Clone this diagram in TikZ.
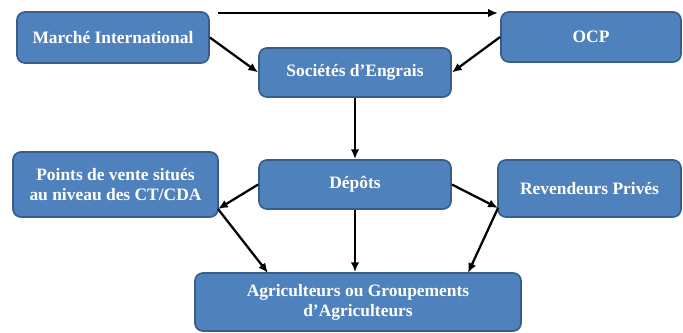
\documentclass[tikz,border=0pt]{standalone}
\usepackage{fontspec}
\setmainfont{Liberation Serif}
\usetikzlibrary{arrows.meta,calc}

\definecolor{boxfill}{RGB}{79,129,189}
\definecolor{boxline}{RGB}{56,93,138}

\tikzset{
  acteur/.style={draw=boxline, fill=boxfill, line width=1.2pt, rounded corners=0.2cm,
    text=white, font=\fontsize{12.4}{14.2}\selectfont\bfseries, align=center, inner sep=0pt},
  flux/.style={line width=1.6pt, -{Latex[length=7pt,width=6pt]}}
}

\begin{document}
\begin{tikzpicture}[x=0.025cm,y=-0.025cm]
\useasboundingbox (0,0) rectangle (683,332);

% les acteurs
\node[acteur, minimum width=4.8cm, minimum height=1.275cm] (mi) at (113,37.5) {Marché International};
\node[acteur, minimum width=4.5cm, minimum height=1.25cm] (ocp) at (591,37) {OCP};
\node[acteur, minimum width=4.8cm, minimum height=1.225cm] (se) at (355,72.5) {Sociétés d’Engrais};
\node[acteur, minimum width=4.8cm, minimum height=1.225cm] (dep) at (355,184.5) {Dépôts};
\node[acteur, minimum width=5.125cm, minimum height=1.625cm] (pv) at (115.5,184.5) {Points de vente situés\\au niveau des CT/CDA};
\node[acteur, minimum width=4.575cm, minimum height=1.425cm] (rp) at (589.5,188.5) {Revendeurs Privés};
\node[acteur, minimum width=8.15cm, minimum height=1.45cm] (ag) at (358,302) {Agriculteurs ou Groupements\\d’Agriculteurs};

% points de jonction
\coordinate (mitop) at (218,13);
\coordinate (ocptop) at (498,13);
\coordinate (pvj) at (218,209);
\coordinate (rpj) at (498,208);
\coordinate (ag1) at (268,273);
\coordinate (ag2) at (468,273);

% les flux
\draw[flux] (mitop) -- (ocptop);
\draw[flux] (mi.east) -- (se.west);
\draw[flux] (ocp.west) -- (se.east);
\draw[flux] (se.south) -- (dep.north);
\draw[flux] (dep.west) -- (pvj);
\draw[flux] (dep.east) -- (rpj);
\draw[flux] (pvj) -- (ag1);
\draw[flux] (rpj) -- (ag2);
\draw[flux] (dep.south) -- (dep.south |- ag.north);
\end{tikzpicture}
\end{document}
